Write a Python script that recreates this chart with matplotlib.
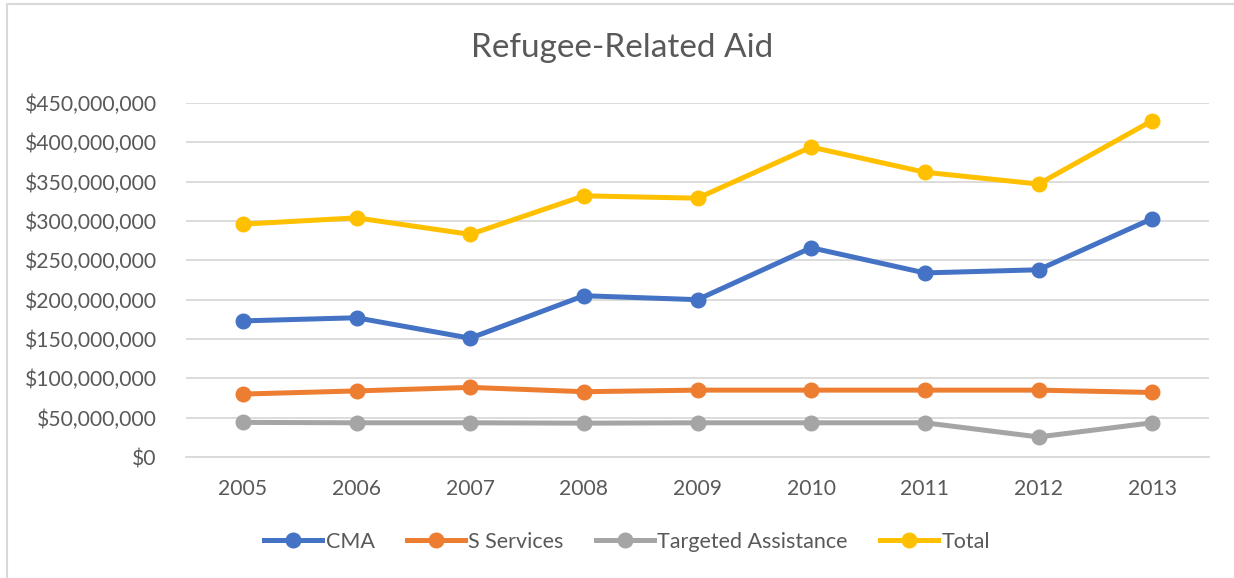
import numpy as np
import matplotlib
matplotlib.use('Agg')
import matplotlib.pyplot as plt
from matplotlib.ticker import FuncFormatter
from matplotlib.lines import Line2D

plt.rcParams['font.family'] = ['Lato', 'DejaVu Sans']

## The data (dollars)
years = ['2005', '2006', '2007', '2008', '2009', '2010', '2011', '2012', '2013']
cma = [173e6, 177e6, 151e6, 205e6, 200e6, 266e6, 234e6, 238e6, 303e6]
s_services = [80e6, 84e6, 88.5e6, 83e6, 85e6, 85e6, 85e6, 85e6, 82e6]
targeted = [44e6, 43.5e6, 43.5e6, 43e6, 43.5e6, 43.5e6, 43.5e6, 25.5e6, 43.5e6]
total = [296e6, 304e6, 283e6, 332e6, 329e6, 394e6, 362e6, 347e6, 427.5e6]

series = [('CMA', cma, '#4472C4'),
          ('S Services', s_services, '#ED7D31'),
          ('Targeted Assistance', targeted, '#A5A5A5'),
          ('Total', total, '#FFC000')]

txt = '#595959'
grid_c = '#D9D9D9'

fig = plt.figure(figsize=(12.34, 5.78), dpi=100)
ax = fig.add_axes([186/1234, 1 - 457/578, (1209-186)/1234, (457-103)/578])

x = np.arange(len(years))
for name, vals, col in series:
    ax.plot(x, vals, color=col, lw=3.6, marker='o', ms=10.5, label=name,
            solid_capstyle='round', zorder=3)

ax.set_xlim(-0.5, len(years) - 0.5)
ax.set_ylim(0, 450e6)
ax.set_yticks(np.arange(0, 451e6, 50e6))
ax.yaxis.set_major_formatter(FuncFormatter(lambda v, p: f'${v:,.0f}'))
ax.set_xticks(x)
ax.set_xticklabels(years)

ax.grid(axis='y', color=grid_c, lw=1.3)
ax.set_axisbelow(True)
for s in ['top', 'right', 'left']:
    ax.spines[s].set_visible(False)
ax.spines['bottom'].set_color(grid_c)
ax.spines['bottom'].set_linewidth(1.3)
ax.tick_params(axis='both', length=0, labelsize=15.2, labelcolor=txt)
ax.tick_params(axis='y', pad=21)
ax.tick_params(axis='x', pad=16)

fig.text(622/1234, 1 - 48/578, 'Refugee-Related Aid', ha='center', va='center',
         fontsize=24, color=txt)

handles = [Line2D([], [], color=c, lw=3.6, marker='o', ms=10.5) for _, _, c in series]
leg = fig.legend(handles, [n for n, _, _ in series], loc='center',
                 bbox_to_anchor=(627/1234, 1 - 542/578), ncol=4, frameon=False,
                 fontsize=15.5, handlelength=2.7, handletextpad=0.15,
                 columnspacing=1.5, labelcolor=txt)

# light border round the chart area
fig.add_artist(plt.Rectangle((7/1234, -0.05), 1.1, 1 - 4/578 + 0.05,
                             transform=fig.transFigure, fill=False,
                             ec='#D9D9D9', lw=1.5))

fig.savefig('out.png', dpi=100)
